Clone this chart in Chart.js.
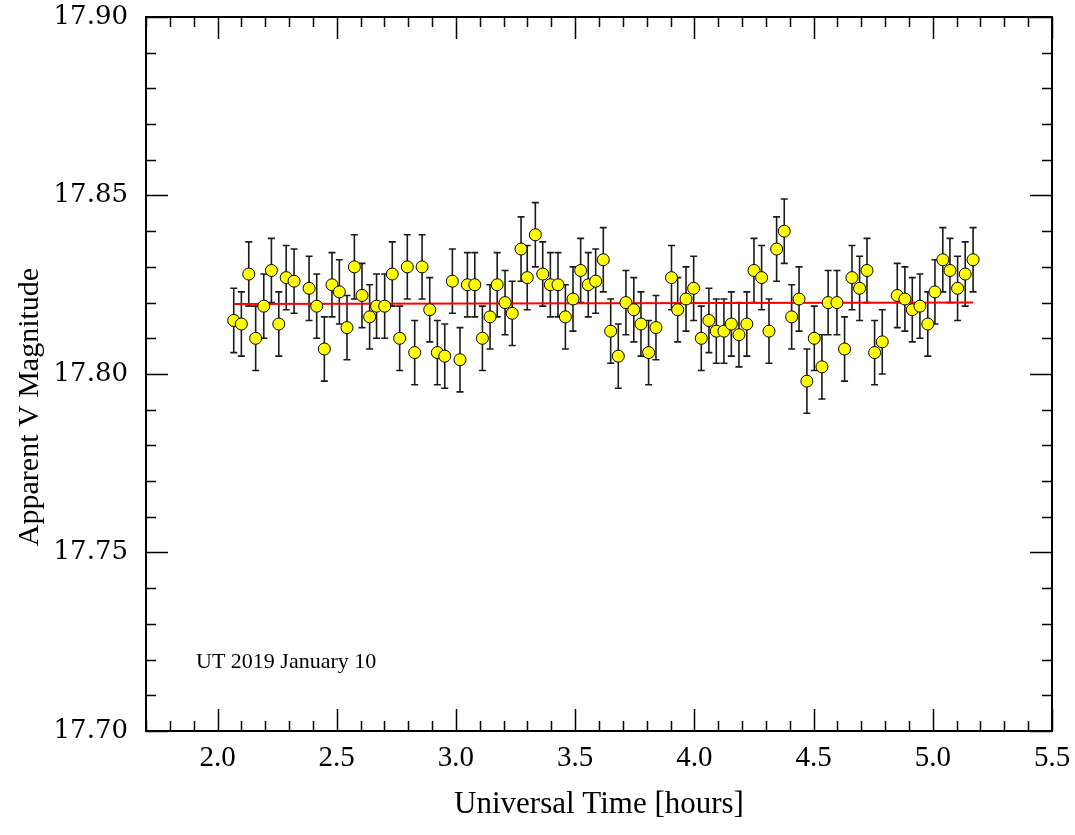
<!DOCTYPE html>
<html>
<head>
<meta charset="utf-8">
<title>Apparent V Magnitude - UT 2019 January 10</title>
<script src="https://cdn.jsdelivr.net/npm/chart.js@4.4.1/dist/chart.umd.min.js"></script>
<style>
  html, body { margin: 0; padding: 0; background: #ffffff; }
  #wrap { width: 1075px; height: 835px; }
</style>
</head>
<body>
<div id="wrap"><canvas id="lightCurve" width="1075" height="835"></canvas></div>
<script>
// Время наблюдения (UT, часы)
const utHours = [
  2.068, 2.100, 2.131, 2.160, 2.194, 2.226, 2.257, 2.288, 2.321, 2.384,
  2.416, 2.448, 2.480, 2.511, 2.543, 2.574, 2.606, 2.638, 2.667, 2.701,
  2.733, 2.764, 2.796, 2.827, 2.858, 2.890, 2.922, 2.953, 2.985, 3.017,
  3.048, 3.079, 3.111, 3.143, 3.173, 3.206, 3.236, 3.273, 3.299, 3.333,
  3.364, 3.396, 3.428, 3.459, 3.491, 3.523, 3.555, 3.586, 3.618, 3.649,
  3.681, 3.713, 3.746, 3.776, 3.808, 3.839, 3.904, 3.930, 3.965, 3.997,
  4.029, 4.061, 4.092, 4.124, 4.155, 4.187, 4.220, 4.250, 4.282, 4.313,
  4.345, 4.377, 4.408, 4.439, 4.472, 4.503, 4.535, 4.561, 4.598, 4.630,
  4.661, 4.693, 4.724, 4.756, 4.788, 4.851, 4.883, 4.914, 4.946, 4.979,
  5.009, 5.042, 5.072, 5.104, 5.136, 5.169
];

// Видимая звёздная величина V
const magV = [
  17.815, 17.814, 17.828, 17.810, 17.819, 17.829, 17.814, 17.827, 17.826, 17.824,
  17.819, 17.807, 17.825, 17.823, 17.813, 17.830, 17.822, 17.816, 17.819, 17.819,
  17.828, 17.810, 17.830, 17.806, 17.830, 17.818, 17.806, 17.805, 17.826, 17.804,
  17.825, 17.825, 17.810, 17.816, 17.825, 17.820, 17.817, 17.835, 17.827, 17.839,
  17.828, 17.825, 17.825, 17.816, 17.821, 17.829, 17.825, 17.826, 17.832, 17.812,
  17.805, 17.820, 17.818, 17.814, 17.806, 17.813, 17.827, 17.818, 17.821, 17.824,
  17.810, 17.815, 17.812, 17.812, 17.814, 17.811, 17.814, 17.829, 17.827, 17.812,
  17.835, 17.840, 17.816, 17.821, 17.798, 17.810, 17.802, 17.820, 17.820, 17.807,
  17.827, 17.824, 17.829, 17.806, 17.809, 17.822, 17.821, 17.818, 17.819, 17.814,
  17.823, 17.832, 17.829, 17.824, 17.828, 17.832
];

// Погрешности (±)
const magErr = [
  0.009, 0.009, 0.009, 0.009, 0.009, 0.009, 0.009, 0.009, 0.009, 0.009,
  0.009, 0.009, 0.009, 0.009, 0.009, 0.009, 0.009, 0.009, 0.009, 0.009,
  0.009, 0.009, 0.009, 0.009, 0.009, 0.009, 0.009, 0.009, 0.009, 0.009,
  0.009, 0.009, 0.009, 0.009, 0.009, 0.009, 0.009, 0.009, 0.009, 0.009,
  0.009, 0.009, 0.009, 0.009, 0.009, 0.009, 0.009, 0.009, 0.009, 0.009,
  0.009, 0.009, 0.009, 0.009, 0.009, 0.009, 0.009, 0.009, 0.009, 0.009,
  0.009, 0.009, 0.009, 0.009, 0.009, 0.009, 0.009, 0.009, 0.009, 0.009,
  0.009, 0.009, 0.009, 0.009, 0.009, 0.009, 0.009, 0.009, 0.009, 0.009,
  0.009, 0.009, 0.009, 0.009, 0.009, 0.009, 0.009, 0.009, 0.009, 0.009,
  0.009, 0.009, 0.009, 0.009, 0.009, 0.009
];

// Линейная аппроксимация (красная линия)
const fitHours = [2.068, 5.169];
const fitMag = [17.8196, 17.8200];

// Подписи осей
const xTickValues = [2.0, 2.5, 3.0, 3.5, 4.0, 4.5, 5.0, 5.5];
const yTickValues = [17.70, 17.75, 17.80, 17.85, 17.90];

const SERIF = '"Liberation Serif", "Times New Roman", serif';
const WIDE_SERIF = '"DejaVu Serif", serif';

// Усы погрешностей под точками
const errorBars = {
  id: 'errorBars',
  beforeDatasetsDraw(chart) {
    const { ctx, scales: { x, y } } = chart;
    ctx.save();
    ctx.strokeStyle = '#1a1a1a';
    ctx.lineWidth = 1.6;
    const cap = 3.5;
    for (let i = 0; i < utHours.length; i++) {
      const px = x.getPixelForValue(utHours[i]);
      const top = y.getPixelForValue(magV[i] + magErr[i]);
      const bot = y.getPixelForValue(magV[i] - magErr[i]);
      ctx.beginPath();
      ctx.moveTo(px, top); ctx.lineTo(px, bot);
      ctx.moveTo(px - cap, top); ctx.lineTo(px + cap, top);
      ctx.moveTo(px - cap, bot); ctx.lineTo(px + cap, bot);
      ctx.stroke();
    }
    ctx.restore();
  }
};

// Рамка и засечки внутрь по всем четырём сторонам, подписи
const frameTicks = {
  id: 'frameTicks',
  afterDraw(chart) {
    const { ctx, chartArea: a, scales: { x, y } } = chart;
    const major = 22, minor = 10;
    ctx.save();
    ctx.strokeStyle = '#000';
    ctx.lineWidth = 1.5;
    ctx.beginPath();
    for (let k = 17; k <= 55; k++) {
      const v = k / 10;
      const px = Math.round(x.getPixelForValue(v)) + 0.5;
      const len = (k % 5 === 0) ? major : minor;
      ctx.moveTo(px, a.bottom); ctx.lineTo(px, a.bottom - len);
      ctx.moveTo(px, a.top); ctx.lineTo(px, a.top + len);
    }
    for (let k = 1770; k <= 1790; k++) {
      const v = k / 100;
      const py = Math.round(y.getPixelForValue(v)) + 0.5;
      const len = (k % 5 === 0) ? major : minor;
      ctx.moveTo(a.left, py); ctx.lineTo(a.left + len, py);
      ctx.moveTo(a.right, py); ctx.lineTo(a.right - len, py);
    }
    ctx.stroke();
    ctx.lineWidth = 2;
    ctx.strokeRect(a.left, a.top, a.right - a.left, a.bottom - a.top);

    ctx.fillStyle = '#000';
    ctx.font = '22px ' + SERIF;
    ctx.textAlign = 'left';
    ctx.textBaseline = 'alphabetic';
    ctx.fillText('UT 2019 January 10', a.left + 50, 668);

    // подпись оси Y (в оригинале смещена ниже центра оси)
    ctx.translate(30, 407);
    ctx.rotate(-Math.PI / 2);
    ctx.font = '30px ' + SERIF;
    ctx.textAlign = 'center';
    ctx.textBaseline = 'middle';
    ctx.fillText('Apparent V Magnitude', 0, 0);
    ctx.restore();
  }
};

const ctx = document.getElementById('lightCurve').getContext('2d');
window.lightCurve = new Chart(ctx, {
  type: 'scatter',
  data: {
    datasets: [
      {
        label: 'V',
        data: utHours.map((t, i) => ({ x: t, y: magV[i] })),
        pointRadius: 6,
        pointHoverRadius: 6,
        pointBackgroundColor: '#ffff00',
        pointBorderColor: '#000000',
        pointBorderWidth: 1,
        showLine: false,
        order: 0
      },
      {
        label: 'fit',
        data: fitHours.map((t, i) => ({ x: t, y: fitMag[i] })),
        showLine: true,
        borderColor: '#ff0000',
        borderWidth: 2,
        pointRadius: 0,
        fill: false,
        order: 1
      }
    ]
  },
  options: {
    responsive: false,
    animation: false,
    devicePixelRatio: 1,
    layout: { autoPadding: false, padding: { left: 0, top: 17, right: 23, bottom: 0 } },
    plugins: {
      legend: { display: false },
      tooltip: { enabled: false }
    },
    scales: {
      x: {
        type: 'linear',
        min: 1.7,
        max: 5.5,
        grid: { display: false, drawTicks: false },
        border: { display: false },
        afterBuildTicks: (s) => { s.ticks = xTickValues.map(v => ({ value: v })); },
        afterFit: (s) => { s.height = 104; s.paddingLeft = 0; s.paddingRight = 0; },
        ticks: {
          color: '#000',
          padding: 10,
          maxRotation: 0,
          font: { family: SERIF, size: 29 },
          callback: (v) => Number(v).toFixed(1)
        },
        title: {
          display: true,
          text: 'Universal Time [hours]',
          color: '#000',
          font: { family: SERIF, size: 31 },
          padding: { top: 0, bottom: 12 }
        }
      },
      y: {
        type: 'linear',
        min: 17.70,
        max: 17.90,
        grid: { display: false, drawTicks: false },
        border: { display: false },
        afterBuildTicks: (s) => { s.ticks = yTickValues.map(v => ({ value: v })); },
        afterFit: (s) => { s.width = 146; s.paddingTop = 0; s.paddingBottom = 0; },
        ticks: {
          color: '#000',
          padding: 18,
          font: { family: WIDE_SERIF, size: 26 },
          callback: (v) => Number(v).toFixed(2)
        },
        title: { display: false }
      }
    }
  },
  plugins: [errorBars, frameTicks]
});
</script>
</body>
</html>
